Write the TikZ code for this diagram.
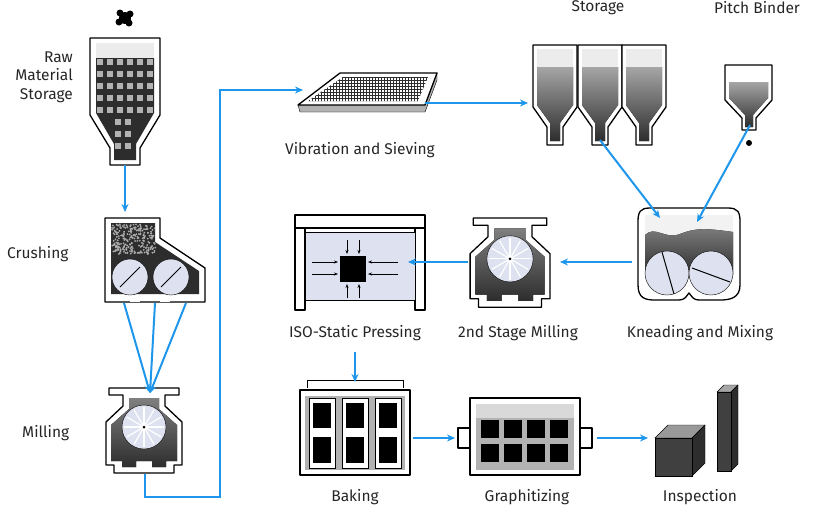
\documentclass[tikz,border=0pt]{standalone}
\usepackage{fontspec}
\setmainfont{Fira Sans}
\usetikzlibrary{arrows.meta,patterns}
\definecolor{ab}{RGB}{30,150,235}
\definecolor{dk}{RGB}{45,45,45}
\definecolor{lv}{RGB}{222,226,240}
\definecolor{gr}{RGB}{120,120,120}
\tikzset{
 flow/.style={draw=ab,line width=2pt,-{Stealth[length=8pt,width=7pt]}},
 shell/.style={draw=black,line width=1.3pt,fill=white,line join=round},
 lbl/.style={font=\fontsize{15.5}{18.5}\selectfont,text=black!85,inner sep=0pt},
 pics/mill/.style={code={
  \draw[shell] (-35,-42)--(35,-42)--(35,-35)--(21,-35)--(21,-24)--(38,-8)--(38,35)--(30,35)--(30,43)--(-30,43)--(-30,35)--(-38,35)--(-38,-8)--(-21,-24)--(-21,-35)--(-35,-35)--cycle;
  \fill[top color=gray,bottom color=dk] (-15,-32)--(15,-32)--(15,-21)--(33,-5)--(33,31)--(22,31)--(22,37)--(8,37)--(8,31)--(-8,31)--(-8,37)--(-22,37)--(-22,31)--(-33,31)--(-33,-5)--(-15,-21)--cycle;
  \draw[fill=lv] (0,-3) circle (22);
  \foreach \a in {0,30,...,330}{\draw[white,line width=1.2pt] (0,-3)--++(\a:20);}
  \fill (0,-3) circle (1.5);
 }},
 pics/store/.style={code={
  \draw[shell] (-22,0)--(22,0)--(22,62)--(8,82)--(8,100)--(-8,100)--(-8,82)--(-22,62)--cycle;
  \fill[top color=gray!70,bottom color=dk] (-18,22)--(18,22)--(18,60)--(5,78)--(5,96)--(-5,96)--(-5,78)--(-18,60)--cycle;
  \fill[gray!15] (-18,4) rectangle (18,22);
 }}
}
\begin{document}
\begin{tikzpicture}[x=1pt,y=-1pt]
\useasboundingbox (0,0) rectangle (816,509);
\pgfmathsetseed{7}
% Raw material storage
\node[lbl,align=right,anchor=east] (lraw) at (73,77) {Raw\\Material\\Storage};
\fill[black] (125,18) circle (6);
\foreach \p in {(120,13),(130,14),(129,23),(119,22)} \fill[black] \p circle (3.5);
\draw[shell] (90,38)--(160,38)--(160,115)--(140,148)--(140,165)--(110,165)--(110,148)--(90,115)--cycle;
\fill[dk] (96,58)--(154,58)--(154,113)--(136,144)--(136,160)--(114,160)--(114,144)--(96,113)--cycle;
\fill[gray!15] (96,43) rectangle (154,58);
\foreach \x in {100,110,...,150}{\foreach \y in {62,74,...,110}{\fill[gray!60] (\x-3,\y-3) rectangle (\x+3,\y+3);}}
\foreach \x in {118,128}{\foreach \y in {122,134,146}{\fill[gray!60] (\x-3,\y-3) rectangle (\x+3,\y+3);}}
\coordinate (rawout) at (125,165);
% Crusher
\node[lbl,anchor=west] (lcr) at (7,254) {Crushing};
\draw[shell] (105,218)--(160,218)--(160,238)--(205,268)--(205,302)--(105,302)--cycle;
\fill[dk] (111,223)--(155,223)--(155,242)--(199,271)--(199,294)--(111,294)--cycle;
\begin{scope}
\clip (111,223)--(155,223)--(155,242)--(199,271)--(199,294)--(111,294)--cycle;
\foreach \i in {1,...,260}{\pgfmathsetmacro\rx{112+44*rnd}\pgfmathsetmacro\ry{224+30*rnd}\fill[gray!65] (\rx,\ry) circle (1);}
\end{scope}
\foreach \x in {135,165}{\fill[white] (\x-5,296) rectangle (\x+5,302);}
\draw[fill=lv] (130,277) circle (18); \draw[fill=lv] (171,277) circle (18);
\draw[line width=1pt] (120,287)--(140,267); \draw[line width=1pt] (161,287)--(181,267);
\coordinate (crin) at (125,212);
\coordinate (c1) at (124,303); \coordinate (c2) at (155,303); \coordinate (c3) at (186,303);
% Mill
\node[lbl,anchor=west] (lmi) at (22,433) {Milling};
\pic at (144,430) {mill};
\coordinate (millin) at (150,393);
\coordinate (millout) at (145,474);
% Sieve
\fill[gray!60,draw=black] (298,105)--(300,112)--(425,112)--(437,80)--(437,73)--(425,105)--cycle;
\draw[shell] (298,105)--(340,73)--(437,73)--(425,105)--cycle;
\fill[pattern=grid,pattern color=dk] (308,101)--(343,77)--(428,77)--(418,101)--cycle;
\node[lbl] (lsv) at (360,150) {Vibration and Sieving};
\coordinate (svin) at (303,90); \coordinate (svout) at (425,103);
% Storage
\node[lbl] (lst) at (598,8) {Storage};
\pic at (555,45) {store}; \pic at (600,45) {store}; \pic at (644,45) {store};
\coordinate (stin) at (528,103); \coordinate (stout) at (600,140);
% Pitch binder
\node[lbl] (lpb) at (757,8) {Pitch Binder};
\draw[shell] (725,65)--(772,65)--(772,100)--(756,118)--(756,130)--(742,130)--(742,118)--(725,100)--cycle;
\fill[top color=gray!70,bottom color=dk] (729,82)--(768,82)--(768,98)--(753,115)--(753,127)--(745,127)--(745,115)--(729,98)--cycle;
\fill (749,143) circle (3);
\coordinate (pbout) at (750,125);
% Kneading
\draw[shell] (650,208)--(728,208)..controls (738,208) and (740,212)..(740,222)--(740,285)..controls (740,298) and (730,300)..(720,300)--(700,300)..controls (692,300) and (692,296)..(689,293)..controls (686,296) and (686,300)..(678,300)--(655,300)..controls (645,300) and (638,298)..(638,285)--(638,222)..controls (638,212) and (640,208)..(650,208)--cycle;
\fill[gray!10] (645,215) rectangle (733,235);
\fill[top color=gray,bottom color=dk] (645,235)..controls (655,225) and (665,240)..(680,234)..controls (695,228) and (705,228)..(733,232)--(733,275)--(645,275)--cycle;
\draw[fill=lv] (667,273) circle (22); \draw[fill=lv] (711,273) circle (22);
\draw[line width=1pt] (662,252)--(674,294); \draw[line width=1pt] (692,268)--(730,282);
\node[lbl] (lkm) at (700,333) {Kneading and Mixing};
\coordinate (kin1) at (660,218); \coordinate (kin2) at (697,222); \coordinate (kout) at (632,262);
% 2nd stage mill
\pic[scale=1.05] at (510,262) {mill};
\node[lbl] (l2m) at (518,333) {2nd Stage Milling};
\coordinate (m2in) at (560,262); \coordinate (m2out) at (468,262);
% Iso press
\draw[shell] (295,215) rectangle (425,228);
\draw[shell] (295,228) rectangle (305,310); \draw[shell] (415,228) rectangle (425,310);
\draw[fill=lv,draw=black,line width=1pt] (305,232) rectangle (415,300);
\fill[black] (340,256) rectangle (366,282);
\foreach \a/\b in {{(312,262)}/{(338,262)},{(312,274)}/{(338,274)},{(398,262)}/{(368,262)},{(398,274)}/{(368,274)},{(347,240)}/{(347,254)},{(359,240)}/{(359,254)},{(347,298)}/{(347,284)},{(359,298)}/{(359,284)}}
 \draw[-{Stealth[length=4pt]},line width=0.7pt] \a--\b;
\node[lbl] (lip) at (355,333) {ISO-Static Pressing};
\coordinate (ipin) at (408,262); \coordinate (ipout) at (355,352);
% Baking
\draw[shell] (300,390) rectangle (410,475);
\draw[black,line width=1pt] (307,388)--(307,380)--(403,380)--(403,388);
\fill[gray!60] (305,396) rectangle (405,470);
\foreach \x in {322,355,388}{\draw[fill=white,line width=1pt] (\x-13,398) rectangle (\x+13,468);
 \fill (\x-9,403) rectangle (\x+9,428); \fill (\x-9,437) rectangle (\x+9,463);}
\node[lbl] (lbk) at (355,497) {Baking};
\coordinate (bkin) at (355,382); \coordinate (bkout) at (413,438);
% Graphitizing
\draw[shell] (470,398) rectangle (580,475);
\fill[gray!60] (476,404) rectangle (574,470);
\fill[gray!30] (476,404) rectangle (574,418);
\foreach \x in {490,513,536,559}{\fill (\x-9,420) rectangle (\x+9,438); \fill (\x-9,444) rectangle (\x+9,462);}
\draw[shell] (458,428) rectangle (470,448); \draw[shell] (580,428) rectangle (592,448);
\node[lbl] (lgr) at (527,497) {Graphitizing};
\coordinate (grin) at (455,438); \coordinate (grout) at (597,438);
% Inspection
\fill[gray!80,draw=black] (655,438)--(668,425)--(705,425)--(692,438)--cycle;
\fill[dk,draw=black] (692,438)--(705,425)--(705,463)--(692,476)--cycle;
\fill[gray!50!black,draw=black] (655,438) rectangle (692,476);
\fill[gray!70,draw=black] (717,392)--(724,385)--(738,385)--(731,392)--cycle;
\fill[dk,draw=black] (731,392)--(738,385)--(738,464)--(731,471)--cycle;
\fill[gray!50!black,draw=black] (717,392) rectangle (731,471);
\node[lbl] (lin) at (700,497) {Inspection};
\coordinate (inin) at (648,438);
% Flows
\draw[flow] (rawout)--(crin);
\draw[flow] (c1)--(millin); \draw[flow] (c2)--(millin); \draw[flow] (c3)--(millin);
\draw[flow] (millout)--(145,497)--(220,497)--(220,90)--(svin);
\draw[flow] (svout)--(stin);
\draw[flow] (stout)--(kin1);
\draw[flow] (pbout)--(kin2);
\draw[flow] (kout)--(m2in);
\draw[flow] (m2out)--(ipin);
\draw[flow] (ipout)--(bkin);
\draw[flow] (bkout)--(grin);
\draw[flow] (grout)--(inin);
\end{tikzpicture}
\end{document}
